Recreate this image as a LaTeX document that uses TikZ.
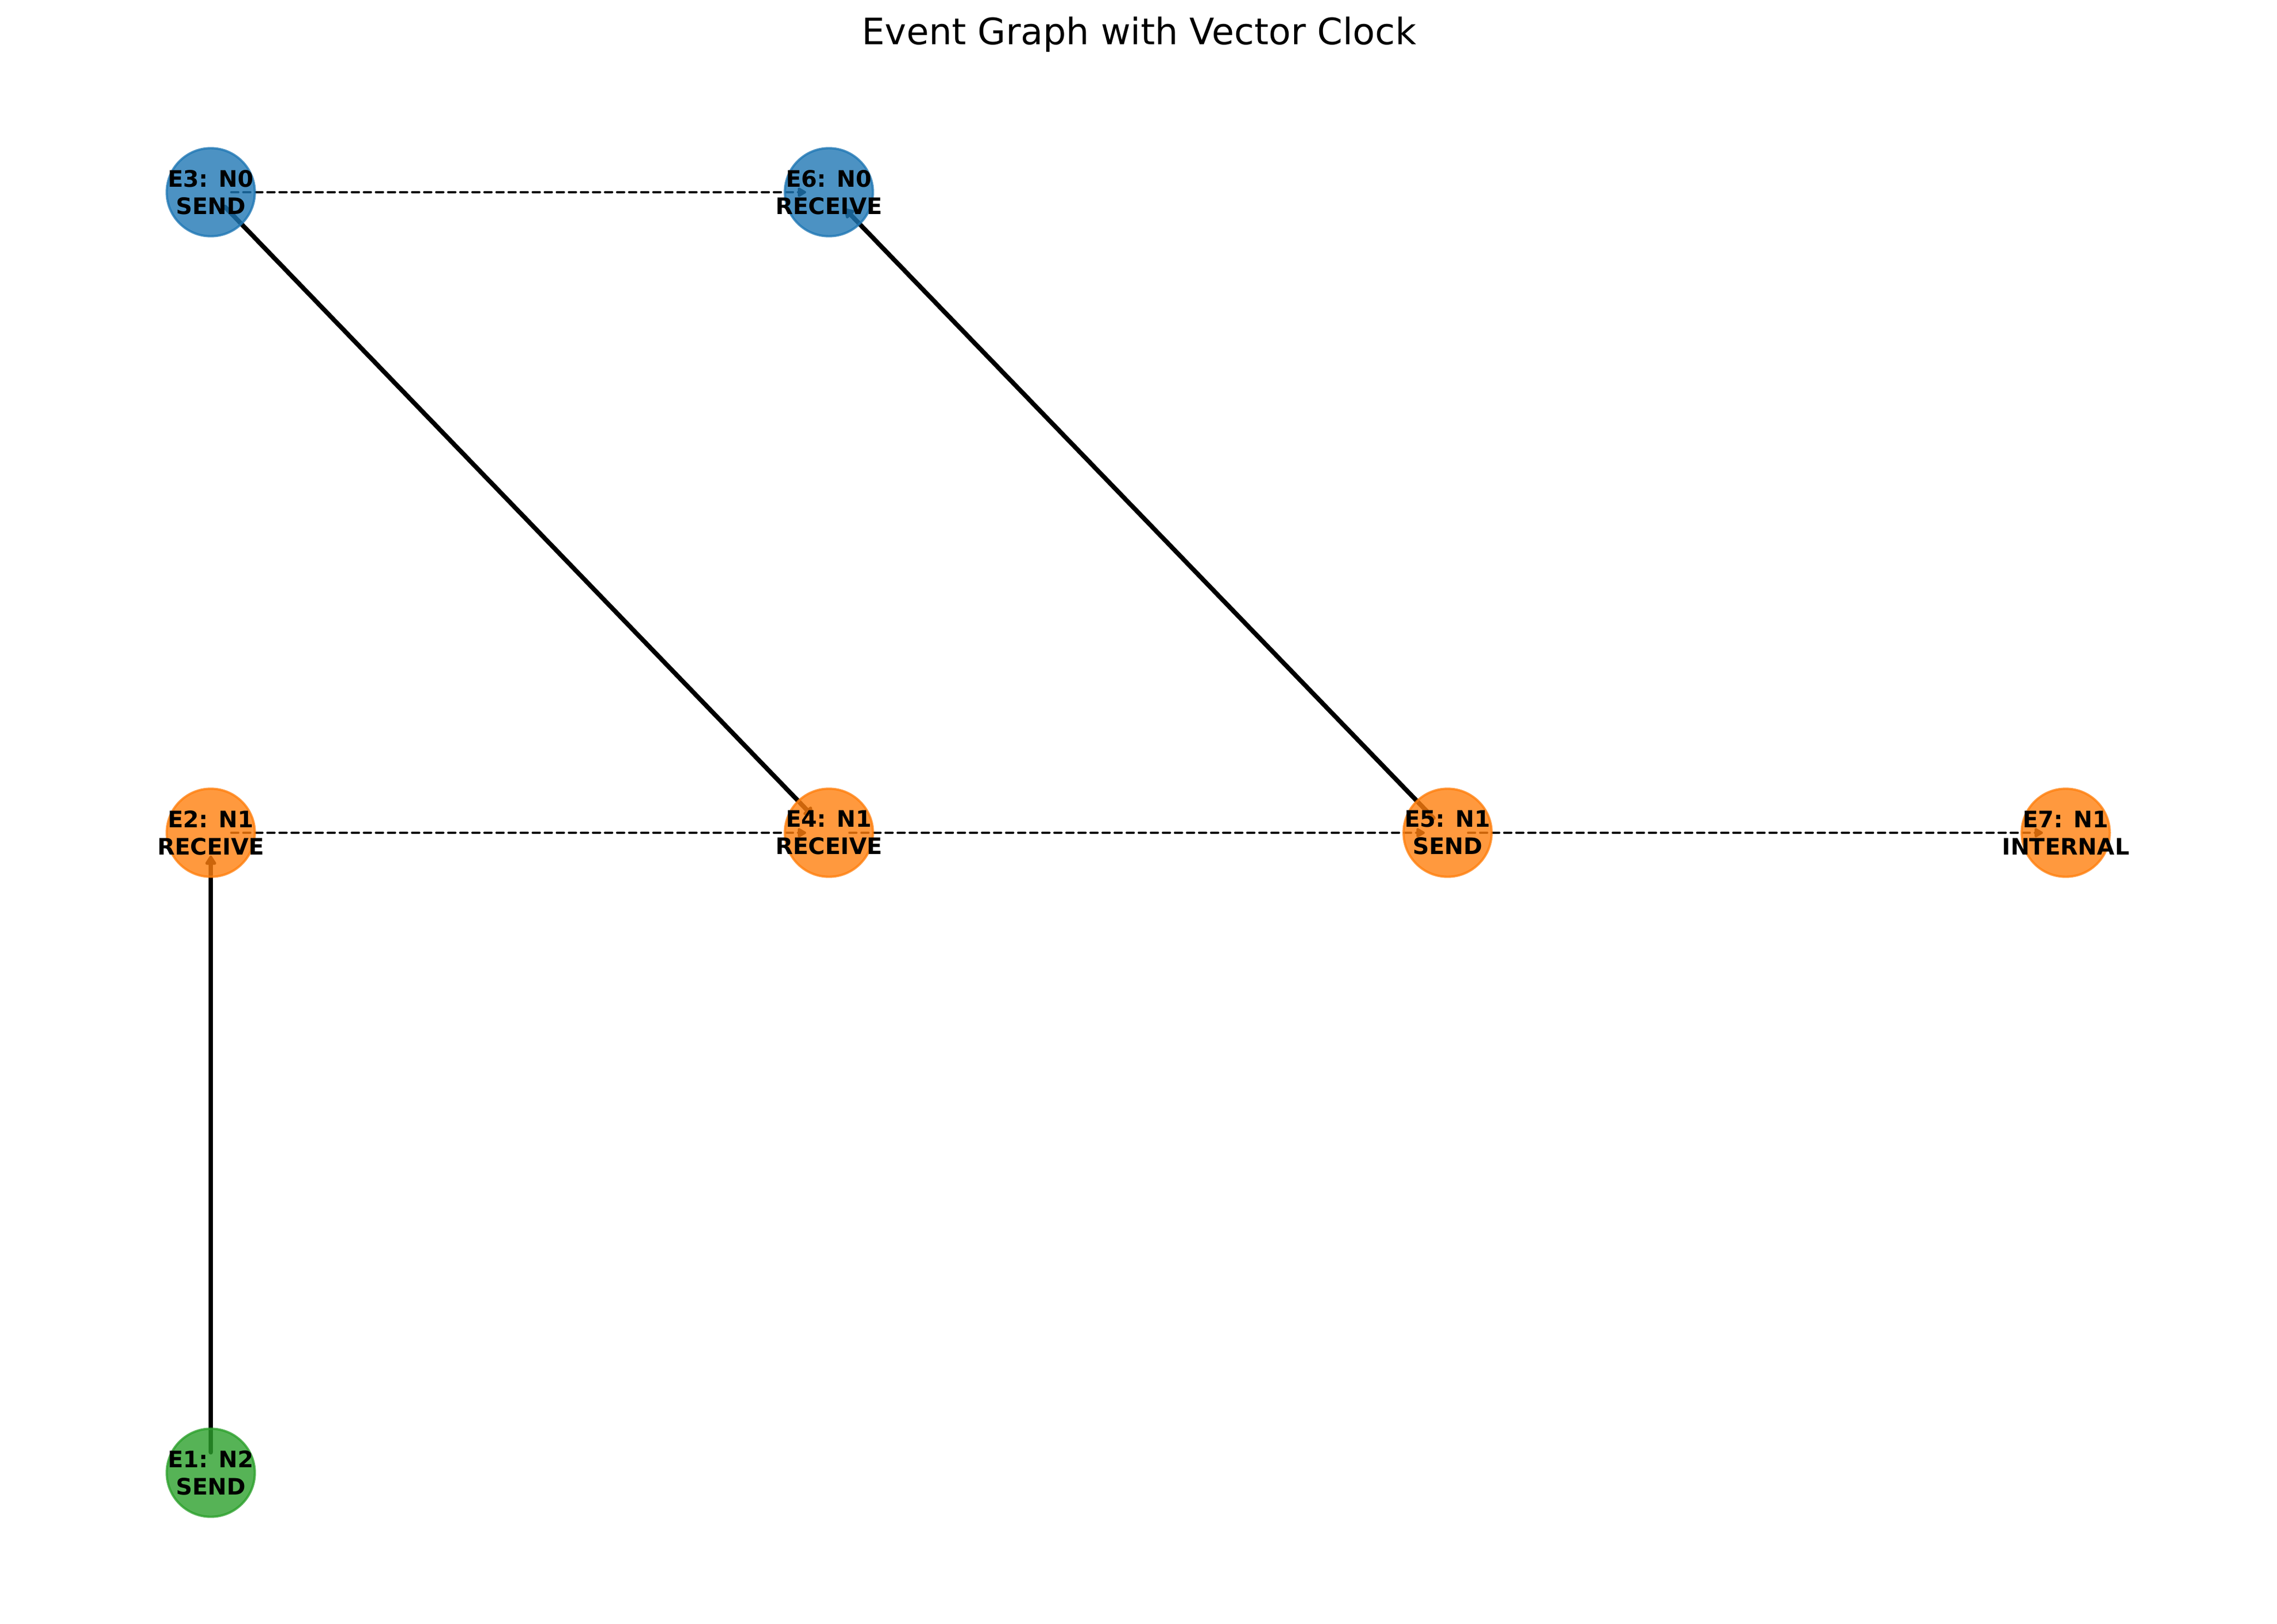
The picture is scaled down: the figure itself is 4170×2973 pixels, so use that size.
\documentclass[tikz,border=0pt]{standalone}
\usepackage{fontspec}
\setmainfont{DejaVu Sans}
\usetikzlibrary{arrows.meta}
\pgfdeclarelayer{edgelayer}
\pgfsetlayers{edgelayer,main}
\definecolor{nblue}{HTML}{1F77B4}
\definecolor{norange}{HTML}{FF7F0E}
\definecolor{ngreen}{HTML}{2CA02C}
\begin{document}
\begin{tikzpicture}[x=0.24pt,y=-0.24pt,
  ev/.style={circle, minimum size=38.7pt, inner sep=0pt, line width=1pt, opacity=0.8, draw=#1, fill=#1},
  lab/.style={font=\fontsize{10}{12}\selectfont\bfseries, align=center, inner sep=0pt},
  msg/.style={line width=2pt, line cap=round, -{Triangle[length=4.6pt,width=5.4pt,round]}, shorten <=9pt, shorten >=10pt},
  seq/.style={line width=1pt, line cap=round, dash pattern=on 3.1pt off 2.2pt, -{Triangle[length=4.2pt,width=4.6pt,round]}, shorten <=9pt, shorten >=10pt}]
\useasboundingbox (0,0) rectangle (4170,2973);

\node[font=\fontsize{16}{19}\selectfont, anchor=base, inner sep=0pt] (title) at (2086,82) {Event Graph with Vector Clock};

% nodes
\node[ev=nblue]   (e3) at (386,352)  {};
\node[ev=nblue]   (e6) at (1518,352) {};
\node[ev=norange] (e2) at (386,1525) {};
\node[ev=norange] (e4) at (1518,1525) {};
\node[ev=norange] (e5) at (2651,1525) {};
\node[ev=norange] (e7) at (3783,1525) {};
\node[ev=ngreen]  (e1) at (386,2697) {};

\node[lab] (l3) at (e3) {E3: N0\\SEND};
\node[lab] (l6) at (e6) {E6: N0\\RECEIVE};
\node[lab] (l2) at (e2) {E2: N1\\RECEIVE};
\node[lab] (l4) at (e4) {E4: N1\\RECEIVE};
\node[lab] (l5) at (e5) {E5: N1\\SEND};
\node[lab] (l7) at (e7) {E7: N1\\INTERNAL};
\node[lab] (l1) at (e1) {E1: N2\\SEND};

% edges below the nodes
\begin{pgfonlayer}{edgelayer}
\draw[msg] (e1.center) -- (e2.center);
\draw[msg] (e3.center) -- (e4.center);
\draw[msg] (e5.center) -- (e6.center);
\draw[seq] (e3.center) -- (e6.center);
\draw[seq] (e2.center) -- (e4.center);
\draw[seq] (e4.center) -- (e5.center);
\draw[seq] (e5.center) -- (e7.center);
\end{pgfonlayer}
\end{tikzpicture}
\end{document}
